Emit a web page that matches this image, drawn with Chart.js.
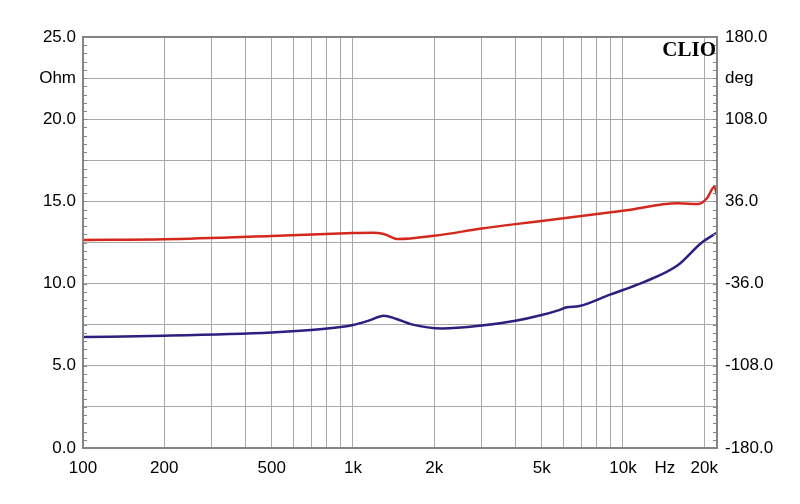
<!DOCTYPE html>
<html>
<head>
<meta charset="utf-8">
<script src="https://cdn.jsdelivr.net/npm/chart.js@4.4.1/dist/chart.umd.min.js"></script>
<style>
  html, body { margin: 0; padding: 0; background: #fff; }
  #wrap { width: 800px; height: 504px; }
</style>
</head>
<body>
<div id="wrap"><canvas id="chart"></canvas></div>
<script>
// --- data ---
const magFreq  = [100, 200, 500, 700, 900, 1000, 1150, 1300, 1450, 1650, 2140, 3000, 4000, 5000, 5800, 6200, 6900, 8900, 10000, 12000, 16000, 19500, 22200];
const magOhm   = [6.75, 6.83, 7.03, 7.18, 7.36, 7.48, 7.76, 8.05, 7.85, 7.52, 7.27, 7.45, 7.74, 8.09, 8.39, 8.56, 8.64, 9.31, 9.61, 10.10, 11.13, 12.47, 13.08];

const phaseFreq = [100, 200, 500, 1000, 1180, 1300, 1470, 2000, 3000, 4000, 5000, 10000, 16000, 19000, 20500, 21800, 22300];
const phaseDeg  = [2.2, 2.8, 5.7, 8.3, 8.6, 7.5, 3.0, 5.9, 12.2, 16.1, 18.9, 27.8, 34.3, 33.7, 39.0, 48.9, 41.6];

const xTicks  = [100, 200, 300, 400, 500, 600, 700, 800, 900, 1000, 2000, 3000, 4000, 5000, 6000, 7000, 8000, 9000, 10000, 14300, 20000];
const xLabels = { 100: '100', 200: '200', 500: '500', 1000: '1k', 2000: '2k', 5000: '5k', 10000: '10k', 14300: 'Hz', 20000: '20k' };
const ohmLabels = { 0: '0.0', 5: '5.0', 10: '10.0', 15: '15.0', 20: '20.0', 22.5: 'Ohm', 25: '25.0' };
const degLabels = { '-180': '-180.0', '-108': '-108.0', '-36': '-36.0', '36': '36.0', '108': '108.0', '144': 'deg', '180': '180.0' };

const gridColor = '#a8a8a8';
const frameColor = '#858585';
const font = { family: 'Liberation Sans, Arial, sans-serif', size: 17 };

// frame, small inner ticks and the CLIO mark
const framePlugin = {
  id: 'frame',
  afterDraw(chart) {
    const { ctx, chartArea: a, scales } = chart;
    ctx.save();
    ctx.strokeStyle = frameColor;
    ctx.lineWidth = 2;
    ctx.strokeRect(a.left, a.top, a.right - a.left, a.bottom - a.top);
    ctx.lineWidth = 1;
    for (let v = 0; v <= 25.001; v += 0.5) {
      const y = Math.round(scales.y.getPixelForValue(v)) + 0.5;
      ctx.beginPath();
      ctx.moveTo(a.left, y); ctx.lineTo(a.left + 4, y);
      ctx.moveTo(a.right, y); ctx.lineTo(a.right - 4, y);
      ctx.stroke();
    }
    ctx.fillStyle = '#000';
    ctx.font = 'bold 21px "Liberation Serif", "DejaVu Serif", serif';
    ctx.textAlign = 'right';
    ctx.textBaseline = 'top';
    ctx.fillText('CLIO', a.right - 1, a.top + 3);
    ctx.restore();
  }
};

new Chart(document.getElementById('chart'), {
  type: 'line',
  data: {
    datasets: [
      {
        label: 'Impedance',
        data: magFreq.map((f, i) => ({ x: f, y: magOhm[i] })),
        borderColor: '#2b1f80',
        borderWidth: 2.5,
        pointRadius: 0,
        cubicInterpolationMode: 'monotone',
        yAxisID: 'y'
      },
      {
        label: 'Phase',
        data: phaseFreq.map((f, i) => ({ x: f, y: phaseDeg[i] })),
        borderColor: '#d4281c',
        borderWidth: 2.5,
        pointRadius: 0,
        cubicInterpolationMode: 'monotone',
        yAxisID: 'y1'
      }
    ]
  },
  options: {
    responsive: true,
    maintainAspectRatio: false,
    animation: false,
    layout: { padding: { top: 37, left: 0, right: 0, bottom: 0 } },
    plugins: { legend: { display: false }, tooltip: { enabled: false } },
    scales: {
      x: {
        type: 'logarithmic',
        min: 100,
        max: 22300,
        afterBuildTicks: axis => { axis.ticks = xTicks.map(v => ({ value: v })); },
        afterFit: axis => { axis.height = 56; },
        ticks: {
          autoSkip: false,
          maxRotation: 0,
          padding: 10,
          color: '#000',
          font: font,
          callback: v => xLabels[v] || ''
        },
        grid: {
          color: ctx => (ctx.tick && (ctx.tick.value === 14300 || ctx.tick.value === 100)) ? 'rgba(0,0,0,0)' : gridColor,
          lineWidth: 1,
          drawTicks: false
        },
        border: { display: false }
      },
      y: {
        position: 'left',
        min: 0,
        max: 25,
        afterBuildTicks: axis => {
          const t = [];
          for (let v = 0; v <= 25; v += 2.5) t.push({ value: v });
          axis.ticks = t;
        },
        afterFit: axis => { axis.width = 83; },
        ticks: {
          autoSkip: false,
          padding: 7,
          color: '#000',
          font: font,
          callback: v => ohmLabels[v] || ''
        },
        grid: { color: gridColor, lineWidth: 1, drawTicks: false },
        border: { display: false }
      },
      y1: {
        position: 'right',
        min: -180,
        max: 180,
        afterBuildTicks: axis => {
          const t = [];
          for (let v = -180; v <= 180; v += 36) t.push({ value: v });
          axis.ticks = t;
        },
        afterFit: axis => { axis.width = 83; },
        ticks: {
          autoSkip: false,
          padding: 8,
          color: '#000',
          font: font,
          callback: v => degLabels[String(v)] || ''
        },
        grid: { drawOnChartArea: false, drawTicks: false },
        border: { display: false }
      }
    }
  },
  plugins: [framePlugin]
});
</script>
</body>
</html>
